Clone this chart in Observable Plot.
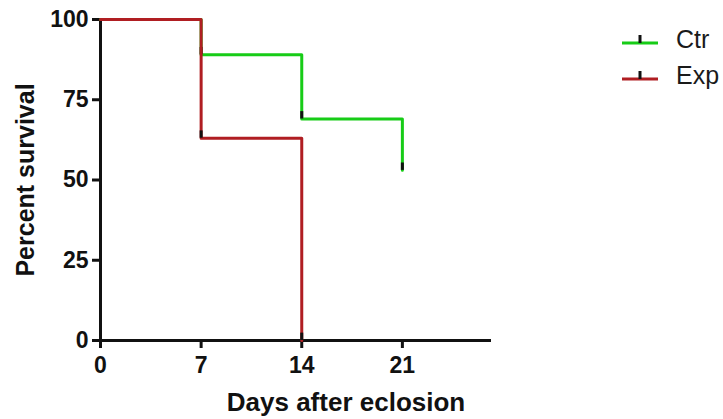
<!DOCTYPE html>
<html>
<head>
<meta charset="utf-8">
<script src="https://cdn.jsdelivr.net/npm/d3@7"></script>
<script src="https://cdn.jsdelivr.net/npm/@observablehq/plot@0.6"></script>
<style>
  body { margin: 0; background: #fff; }
  #wrap { position: relative; width: 723px; height: 419px; font-family: "Liberation Sans", Arial, sans-serif; }
  .legend { position: absolute; left: 620px; top: 21px; }
  .legend .row { display: flex; align-items: center; height: 36px; }
  .legend .row span { font-size: 25px; color: #1a1a1a; margin-left: 16px; }
</style>
</head>
<body>
<div id="wrap"></div>
<script>
// Kaplan–Meier survival after eclosion, two groups
const ctrDays = [0, 7, 14, 21];
const ctrSurvival = [100, 89, 69, 53];
const expDays = [0, 7, 14];
const expSurvival = [100, 63, 0];
const xTicks = [0, 7, 14, 21];
const yTicks = [0, 25, 50, 75, 100];
const groups = ["Ctr", "Exp"];
const groupColors = ["#17cc17", "#b01e22"];

const ctr = ctrDays.map((d, i) => ({day: d, pct: ctrSurvival[i]}));
const exp = expDays.map((d, i) => ({day: d, pct: expSurvival[i]}));

// short black tick marking each step's end
const tickLen = 2.3;

const plot = Plot.plot({
  width: 723,
  height: 419,
  marginLeft: 100,
  marginRight: 232,
  marginTop: 19,
  marginBottom: 79,
  style: {fontFamily: "'Liberation Sans', Arial, sans-serif", color: "#111", background: "transparent"},
  x: {domain: [0, 27.2]},
  y: {domain: [0, 100]},
  marks: [
    Plot.axisX({ticks: xTicks, tickSize: 8, tickPadding: 8, strokeWidth: 3, fontSize: 23, fontWeight: "bold", label: null, stroke: "#111"}),
    Plot.axisY({ticks: yTicks, tickSize: 8, tickPadding: 4, strokeWidth: 3, fontSize: 23, fontWeight: "bold", label: null, stroke: "#111"}),
    Plot.ruleY([0], {stroke: "#111", strokeWidth: 3}),
    Plot.ruleX([0], {stroke: "#111", strokeWidth: 3}),
    Plot.line(ctr, {x: "day", y: "pct", curve: "step-after", stroke: groupColors[0], strokeWidth: 3}),
    Plot.ruleX(ctr.slice(1), {x: "day", y1: "pct", y2: d => d.pct + tickLen, stroke: "#111", strokeWidth: 3}),
    Plot.line(exp, {x: "day", y: "pct", curve: "step-after", stroke: groupColors[1], strokeWidth: 3}),
    Plot.ruleX(exp.slice(1), {x: "day", y1: "pct", y2: d => d.pct + tickLen, stroke: "#111", strokeWidth: 3}),
    Plot.text(["Percent survival"], {frameAnchor: "left", dx: -75, rotate: -90, fontSize: 25, fontWeight: "bold", fill: "#111", textAnchor: "middle", lineAnchor: "middle"}),
    Plot.text(["Days after eclosion"], {frameAnchor: "bottom", dx: 50, dy: 62, fontSize: 26, fontWeight: "bold", fill: "#111", textAnchor: "middle", lineAnchor: "middle"})
  ]
});

const wrap = document.getElementById("wrap");
wrap.appendChild(plot);

// legend to the right of the plot
const legend = document.createElement("div");
legend.className = "legend";
groups.forEach((g, i) => {
  const row = document.createElement("div");
  row.className = "row";
  row.innerHTML = `<svg width="40" height="20"><line x1="2" x2="38" y1="14" y2="14" stroke="${groupColors[i]}" stroke-width="3"/><line x1="20" x2="20" y1="6" y2="14" stroke="#111" stroke-width="3"/></svg><span>${g}</span>`;
  legend.appendChild(row);
});
wrap.appendChild(legend);
</script>
</body>
</html>
